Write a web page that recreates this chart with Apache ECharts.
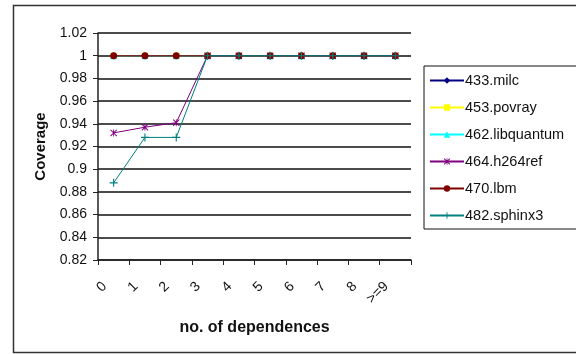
<!DOCTYPE html>
<html>
<head>
<meta charset="utf-8">
<script src="https://cdn.jsdelivr.net/npm/echarts@6/dist/echarts.min.js"></script>
<style>
  html, body { margin: 0; padding: 0; background: #fff; }
  #chart { width: 576px; height: 354px; }
</style>
</head>
<body>
<div id="chart"></div>
<script>
// Number of dependences (category axis)
const categories = ['0', '1', '2', '3', '4', '5', '6', '7', '8', '>=9'];

// Coverage per benchmark
const milc       = [1, 1, 1, 1, 1, 1, 1, 1, 1, 1];
const povray     = [1, 1, 1, 1, 1, 1, 1, 1, 1, 1];
const libquantum = [1, 1, 1, 1, 1, 1, 1, 1, 1, 1];
const h264ref    = [0.932, 0.937, 0.941, 1, 1, 1, 1, 1, 1, 1];
const lbm        = [1, 1, 1, 1, 1, 1, 1, 1, 1, 1];
const sphinx3    = [0.888, 0.928, 0.928, 1, 1, 1, 1, 1, 1, 1];

const seriesNames = ['433.milc', '453.povray', '462.libquantum', '464.h264ref', '470.lbm', '482.sphinx3'];

// Marker shapes
const PLUS = 'path://M4.3,0H5.7V4.3H10V5.7H5.7V10H4.3V5.7H0V4.3H4.3Z';
const STAR = 'path://M1,0L5,4L9,0L10,1L6,5L10,9L9,10L5,6L1,10L0,9L4,5L0,1Z M4.4,0H5.6V10H4.4Z';

function lineSeries(name, data, color, symbol, size) {
  return {
    name: name,
    type: 'line',
    data: data,
    symbol: symbol,
    symbolSize: size,
    showSymbol: true,
    lineStyle: { color: color, width: 1 },
    itemStyle: { color: color, borderColor: color, borderWidth: 0 },
    emphasis: { disabled: true },
    animation: false
  };
}

const chart = echarts.init(document.getElementById('chart'), null, { renderer: 'canvas' });

chart.setOption({
  backgroundColor: '#ffffff',
  animation: false,
  textStyle: { fontFamily: 'Liberation Sans, Arial, sans-serif' },
  graphic: [{
    type: 'rect',
    shape: { x: 13.5, y: 5.5, width: 600, height: 347 },
    style: { fill: 'none', stroke: '#333', lineWidth: 1.5 },
    silent: true,
    z: -1
  }],
  grid: { left: 98, right: 165, top: 33, bottom: 94, containLabel: false },
  legend: {
    orient: 'vertical',
    left: 424,
    top: 66,
    padding: [7, 20, 6, 5],
    itemGap: 12,
    itemWidth: 34,
    itemHeight: 8,
    borderColor: '#111',
    borderWidth: 1,
    textStyle: { fontSize: 14.5, lineHeight: 15, color: '#111', padding: [0, 0, 0, -4] },
    data: seriesNames
  },
  xAxis: {
    type: 'category',
    data: categories,
    boundaryGap: true,
    name: 'no. of dependences',
    nameLocation: 'middle',
    nameGap: 60,
    nameTextStyle: { fontWeight: 'bold', fontSize: 16, color: '#111' },
    axisLine: { lineStyle: { color: '#222', width: 1.5 } },
    axisTick: { show: true, alignWithLabel: false, length: 5, lineStyle: { color: '#222' } },
    axisLabel: { rotate: 45, margin: 15, fontSize: 14, color: '#111', interval: 0, padding: [0, 13, 0, 0] },
    splitLine: { show: false }
  },
  yAxis: {
    type: 'value',
    min: 0.82,
    max: 1.02,
    interval: 0.02,
    name: 'Coverage',
    nameLocation: 'middle',
    nameGap: 50,
    nameTextStyle: { fontWeight: 'bold', fontSize: 15, color: '#111' },
    axisLine: { show: true, lineStyle: { color: '#222', width: 1.5 } },
    axisTick: { show: true, length: 5, inside: false, lineStyle: { color: '#222' } },
    axisLabel: {
      fontSize: 14,
      color: '#111',
      margin: 11,
      formatter: function (v) { return String(Math.round(v * 100) / 100); }
    },
    splitLine: { show: true, lineStyle: { color: '#111', width: 1.5 } }
  },
  series: [
    lineSeries(seriesNames[0], milc, '#000080', 'diamond', 7),
    lineSeries(seriesNames[1], povray, '#FFFF00', 'rect', 6),
    lineSeries(seriesNames[2], libquantum, '#00FFFF', 'triangle', 7),
    lineSeries(seriesNames[3], h264ref, '#800080', STAR, 7),
    lineSeries(seriesNames[4], lbm, '#800000', 'circle', 7),
    lineSeries(seriesNames[5], sphinx3, '#008080', PLUS, 8)
  ]
});
</script>
</body>
</html>
